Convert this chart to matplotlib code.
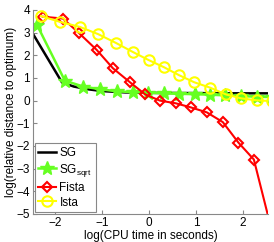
import numpy as np
import matplotlib
matplotlib.use("Agg")
import matplotlib.pyplot as plt

matplotlib.rcParams['font.family'] = ['Liberation Sans', 'DejaVu Sans']
matplotlib.rcParams['mathtext.fontset'] = 'custom'
matplotlib.rcParams['mathtext.rm'] = 'Liberation Sans'

# log(CPU time), log(relative distance to optimum)
sg_x = [-2.47, -1.85, -1.60, -1.30, -1.00, -0.50, 0.00, 1.00, 2.00, 2.60]
sg_y = [2.95, 0.80, 0.62, 0.50, 0.42, 0.36, 0.34, 0.33, 0.32, 0.32]

sgsqrt_x = [-2.38, -1.79, -1.40, -1.04, -0.68, -0.34, -0.02, 0.32, 0.64, 0.98, 1.30, 1.62, 1.96, 2.30, 2.62]
sgsqrt_y = [3.33, 0.88, 0.62, 0.50, 0.41, 0.37, 0.35, 0.32, 0.30, 0.28, 0.26, 0.23, 0.20, 0.17, 0.15]

fista_x = [-2.26, -1.83, -1.49, -1.11, -0.77, -0.40, -0.08, 0.23, 0.57, 0.89, 1.23, 1.57, 1.90, 2.23, 2.57]
fista_y = [3.70, 3.62, 2.98, 2.23, 1.43, 0.80, 0.27, 0.00, -0.12, -0.30, -0.52, -0.95, -1.85, -2.60, -5.40]

ista_x = [-2.30, -1.89, -1.47, -1.08, -0.70, -0.34, 0.00, 0.32, 0.64, 0.96, 1.30, 1.64, 1.96, 2.29, 2.62]
ista_y = [3.73, 3.47, 3.25, 2.93, 2.54, 2.14, 1.78, 1.47, 1.12, 0.81, 0.57, 0.27, 0.10, 0.01, -0.02]

fig = plt.figure(figsize=(2.74, 2.42), dpi=100)
ax = fig.add_axes([0.120, 0.116, 0.858, 0.843])

ax.plot(sg_x, sg_y, color='black', lw=1.8, label='SG')
ax.plot(sgsqrt_x, sgsqrt_y, color='#66ff22', lw=1.8, marker='*', ms=10,
        mfc='#66ff22', mec='#66ff22', label='SG$_{\\mathrm{sqrt}}$')
ax.plot(fista_x, fista_y, color='red', lw=1.5, marker='D', ms=5.5,
        mfc='none', mec='red', mew=1.5, label='Fista')
ax.plot(ista_x, ista_y, color='yellow', lw=1.5, marker='o', ms=7.5,
        mfc='none', mec='yellow', mew=1.5, label='Ista')

ax.set_xlim(-2.47, 2.53)
ax.set_ylim(-5, 4)
ax.set_xticks([-2, -1, 0, 1, 2])
ax.set_yticks(np.arange(-5, 5))
ax.tick_params(direction='in', length=3, labelsize=8.5, color='#888888', pad=2)
for s in ['top', 'right']:
    ax.spines[s].set_visible(False)
for s in ['left', 'bottom']:
    ax.spines[s].set_color('#888888')
    ax.spines[s].set_linewidth(0.8)

ax.set_xlabel('log(CPU time in seconds)', fontsize=8.5, labelpad=1)
ax.set_ylabel('log(relative distance to optimum)', fontsize=8.5, labelpad=0)

leg = ax.legend(loc='lower left', fontsize=8.5, handlelength=1.5, handletextpad=0.3,
                borderpad=0.3, labelspacing=0.25, fancybox=False, framealpha=1,
                borderaxespad=0.15)
leg.get_frame().set_edgecolor('#888888')
leg.get_frame().set_linewidth(0.8)

fig.savefig('out.png', dpi=100)
